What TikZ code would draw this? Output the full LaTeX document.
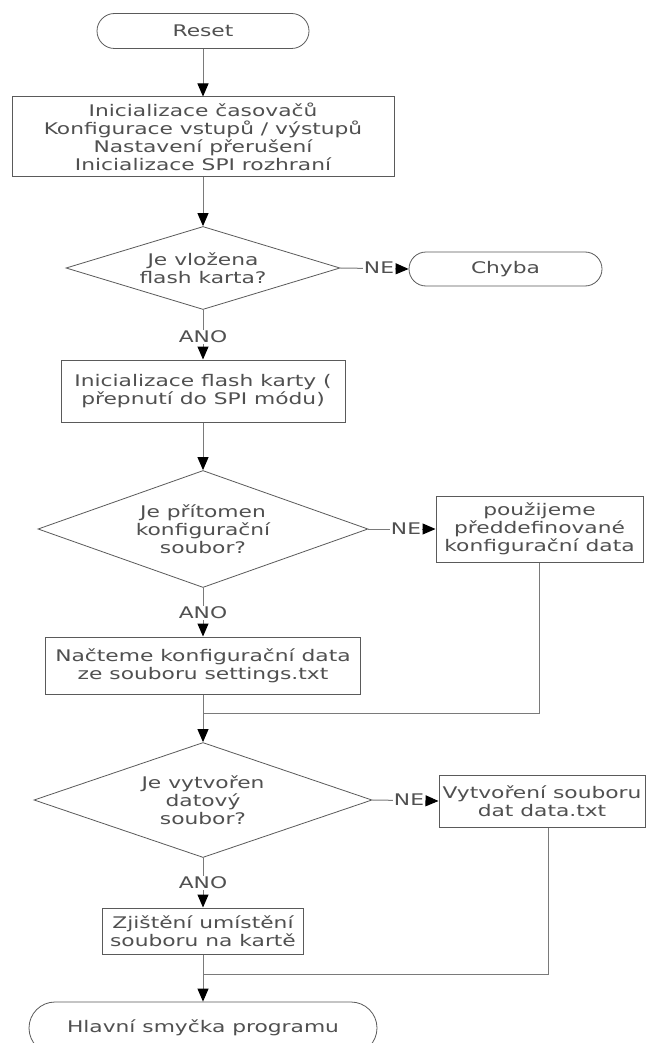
\documentclass[tikz,border=0pt]{standalone}
\usepackage{fontspec}
\setmainfont{DejaVu Sans}[FakeStretch=1.36]
\usetikzlibrary{shapes.geometric,arrows.meta}
\definecolor{ln}{HTML}{5A5A5A}
\definecolor{cn}{HTML}{7A7A7A}
\definecolor{tx}{HTML}{505050}
\begin{document}
\begin{tikzpicture}[x=1pt,y=-1pt,
  every node/.style={font=\fontsize{16}{18}\selectfont, text=tx},
  proc/.style={draw=ln, line width=1pt, rectangle, align=center, inner sep=0pt, fill=white},
  term/.style={draw=ln, line width=0.8pt, rectangle, align=center, inner sep=0pt, fill=white},
  dec/.style={draw=ln, line width=0.8pt, diamond, shape aspect=3, inner sep=0pt, align=center, fill=white},
  conn/.style={draw=cn, line width=1pt},
  arr/.style={conn, -{Triangle[length=13pt,width=11pt,fill=black,color=black]}},
  lab/.style={fill=white, inner sep=0.5pt}]
\useasboundingbox (0,0) rectangle (646,1043);
\clip (0,0) rectangle (646,1043);
\fill[white] (0,0) rectangle (646,1043);

% nodes
\node[term, rounded corners=17.5pt, minimum width=212pt, minimum height=35pt] (reset) at (203,31) {Reset};
\node[proc, minimum width=382pt, minimum height=80pt] (init) at (203,137)
  {Inicializace časovačů\\Konfigurace vstupů / výstupů\\Nastavení přerušení\\Inicializace SPI rozhraní};
\node[dec, minimum width=274pt, minimum height=83pt] (d1) at (203,268) {Je vložena\\flash karta?};
\node[term, rounded corners=17pt, minimum width=193pt, minimum height=34pt] (chyba) at (505.5,269) {Chyba};
\node[proc, minimum width=284pt, minimum height=62pt] (flash) at (203,391)
  {Inicializace flash karty (\\přepnutí do SPI módu)};
\node[dec, minimum width=330pt, minimum height=117pt] (d2) at (203,529) {Je přítomen\\konfigurační\\soubor?};
\node[proc, minimum width=207pt, minimum height=66pt] (pouz) at (539.5,529)
  {použijeme\\předdefinované\\konfigurační data};
\node[proc, minimum width=315pt, minimum height=57pt] (nact) at (203,665.5)
  {Načteme konfigurační data\\ze souboru settings.txt};
\node[dec, minimum width=338pt, minimum height=115pt] (d3) at (203,800) {Je vytvořen\\datový\\soubor?};
\node[proc, minimum width=206pt, minimum height=52pt] (vytv) at (542,801)
  {Vytvoření souboru\\dat data.txt};
\node[proc, minimum width=201pt, minimum height=46pt] (zjist) at (203,931)
  {Zjištění umístění\\souboru na kartě};
\node[term, rounded corners=26pt, minimum width=348pt, minimum height=52pt] (main) at (203,1028)
  {Hlavní smyčka programu};

\coordinate (m1) at (203,713);
\coordinate (m2) at (203,974);

% connectors
\draw[arr] (reset) -- (init);
\draw[arr] (init) -- (d1);
\draw[arr] (d1.east) -- (chyba.west);
\node[lab] (ne1) at (379,268) {NE};
\draw[arr] (d1.south) -- (flash.north);
\node[lab] (ano1) at (203,337) {ANO};
\draw[arr] (flash) -- (d2);
\draw[arr] (d2.east) -- (pouz.west);
\node[lab] (ne2) at (406,529) {NE};
\draw[arr] (d2.south) -- (nact.north);
\node[lab] (ano2) at (203,613) {ANO};
\draw[conn] (pouz.south) -- (pouz.south |- m1) -- (m1);
\draw[arr] (nact.south) -- (d3.north);
\draw[arr] (d3.east) -- (vytv.west);
\node[lab] (ne3) at (409,800) {NE};
\draw[arr] (d3.south) -- (zjist.north);
\node[lab] (ano3) at (203,883) {ANO};
\draw[conn] (vytv.south -| 548,0) -- (548,974) -- (m2);
\draw[arr] (zjist.south) -- (main.north);
\end{tikzpicture}
\end{document}
